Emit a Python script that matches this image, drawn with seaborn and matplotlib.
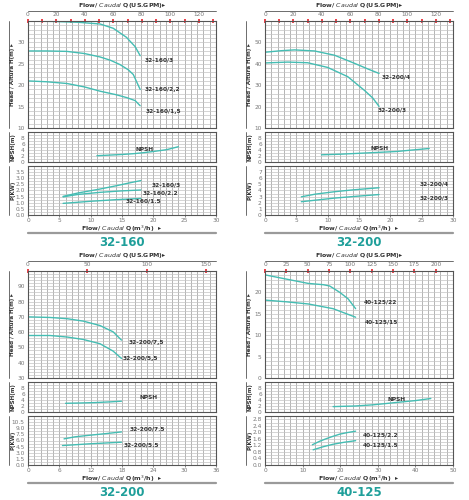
import matplotlib.pyplot as plt
from matplotlib.ticker import MultipleLocator, FixedLocator
from matplotlib.lines import Line2D
import numpy as np
import seaborn as sns

GPM = 4.40287  # US gallons per minute in one m3/h

# ---- 32-160 ----
q160_3 = [0, 4, 8, 11.5, 13.6, 15.7, 17.1, 17.9]
h160_3 = [35, 34.9, 34.7, 34.3, 33.3, 31.2, 29.0, 26.9]
q160_22 = [0, 3, 6.2, 9, 11.5, 13.2, 14.7, 16, 16.8, 17.9]
h160_22 = [28, 28, 27.9, 27.4, 26.6, 25.8, 24.8, 23.6, 22.5, 19.0]
q160_15 = [0, 3, 6.2, 9, 11.5, 14, 15.75, 17.1, 17.9]
h160_15 = [21, 20.8, 20.4, 19.6, 18.6, 17.8, 17.1, 16.4, 15.2]
q160_npsh = [11, 13, 15, 17, 18.4, 20, 22.1, 24]
n160 = [2.1, 2.3, 2.5, 2.8, 3.1, 3.5, 4.1, 5.1]
q160_p3 = [5.6, 8, 11.5, 14.2, 16, 18]
p160_3 = [1.52, 1.8, 2.12, 2.4, 2.6, 2.81]
q160_p22 = [5.6, 8, 11.5, 15, 18]
p160_22 = [1.48, 1.68, 1.85, 1.97, 2.04]
q160_p15 = [5.6, 10, 14, 18]
p160_15 = [0.95, 1.12, 1.25, 1.35]

# ---- 32-200 (4 / 3 kW) ----
q200_4 = [0, 2.5, 4.7, 7.9, 11.1, 14.3, 16.4, 18.2]
h200_4 = [45.4, 46.1, 46.5, 46.0, 44.0, 40.2, 37.6, 35.5]
q200_3 = [0, 3.6, 6.8, 10, 13.2, 15.9, 17.2, 18.2]
h200_3 = [40.4, 40.8, 40.5, 38.3, 34.0, 27.5, 24.0, 20.1]
q200_npsh = [9, 12, 15, 18, 21, 23, 26.2]
n200 = [2.4, 2.6, 2.9, 3.2, 3.5, 3.9, 4.5]
q200_p4 = [5.8, 8, 11.1, 14, 18.2]
p200_4 = [2.97, 3.4, 3.8, 4.1, 4.45]
q200_p3 = [5.8, 8.5, 11.1, 14.5, 18.2]
p200_3 = [2.17, 2.47, 2.76, 3.05, 3.34]

# ---- 32-200 (7,5 / 5,5 kW) ----
q200_75 = [0, 4.2, 7.5, 10.6, 13.8, 16.3, 17.9]
h200_75 = [70, 69.6, 68.8, 67.2, 64.3, 60.2, 54.8]
q200_55 = [0, 4.2, 7.5, 10.6, 13.8, 16.3, 17.9]
h200_55 = [57.8, 57.8, 56.8, 55.2, 52.4, 47.6, 42.8]
q200b_npsh = [7.2, 10, 13, 16, 17.9]
n200b = [2.9, 3.0, 3.15, 3.4, 3.6]
q200_p75 = [6.9, 9, 11.9, 15, 17.9]
p200_75 = [6.4, 6.9, 7.3, 7.7, 8.1]
q200_p55 = [6.6, 11.9, 17.9]
p200_55 = [4.76, 5.2, 5.58]

# ---- 40-125 ----
q125_22 = [0, 5.7, 11.5, 15.5, 17.2, 19.9, 22.1, 24.1]
h125_22 = [24.1, 23.1, 22.1, 21.8, 21.5, 20.0, 18.5, 16.2]
q125_15 = [0, 5.7, 11.5, 18.1, 24.1]
h125_15 = [18.2, 17.8, 17.3, 16.2, 14.2]
q125_npsh = [18.1, 24, 28.8, 32, 35.9, 40, 44.1]
n125 = [1.8, 2.0, 2.4, 2.8, 3.3, 3.8, 4.5]
q125_p22 = [12.6, 14.5, 16.4, 18, 19.9, 22, 24.1]
p125_22 = [1.24, 1.45, 1.62, 1.75, 1.89, 1.99, 2.07]
q125_p15 = [12.8, 15.5, 18.1, 21, 24.1]
p125_15 = [0.93, 1.12, 1.27, 1.39, 1.49]

W, H = 469, 500
CURVE = '#45bdb3'
TEAL = '#1f9f9a'
TXT = '#333333'
TICK = '#777777'

sns.set_theme(style='white')
plt.rcParams['font.family'] = ['DejaVu Sans']

fig = plt.figure(figsize=(W / 100, H / 100), dpi=100)


def add_ax(left, top, width, height):
    return fig.add_axes([left / W, 1 - (top + height) / H, width / W, height / H])


def fig_line(x1, y1, x2, y2, color, lw):
    fig.add_artist(Line2D([x1 / W, x2 / W], [1 - y1 / H, 1 - y2 / H],
                          transform=fig.transFigure, color=color, lw=lw))


def style(ax, xmax, xstep, ylim, ygrid, yticks, bottom_labels):
    ax.set_xlim(0, xmax)
    ax.set_ylim(*ylim)
    ax.set_xticks(np.arange(0, xmax + 0.01, xstep))
    ax.xaxis.set_minor_locator(MultipleLocator(xmax / 30))
    ax.set_yticks(yticks)
    ax.yaxis.set_minor_locator(MultipleLocator(ygrid))
    ax.grid(which='both', axis='x', color='#a0a0a0', lw=0.55)
    ax.grid(which='both', axis='y', color='#c4c4c4', lw=0.5)
    ax.tick_params(which='minor', length=0)
    ax.tick_params(which='major', labelsize=4.2, labelcolor=TICK, length=1.5,
                   width=0.5, color='#555555', pad=0.8,
                   bottom=bottom_labels, labelbottom=bottom_labels)
    for s in ax.spines.values():
        s.set_color('#555555')
        s.set_linewidth(0.8)
    ax.set_xlabel('')
    ax.set_ylabel('')


def bracket(x_left, top, height, text):
    fig_line(x_left - 19, top, x_left - 19, top + height, '#555555', 0.6)
    fig.text((x_left - 15.5) / W, 1 - (top + height / 2) / H, text, rotation=90,
             ha='center', va='center', fontsize=4.0, fontweight='bold', color=TXT)


def curve(ax, q, v, label=None, pos=None):
    sns.lineplot(x=q, y=v, ax=ax, color=CURVE, lw=1.0, sort=False)
    if label:
        ax.text(pos[0], pos[1], label, fontsize=4.2, fontweight='bold',
                color=TXT, ha='left', va='center')


def panel(x0, y0, cfg):
    xmax, xstep = cfg['xmax'], cfg['xstep']
    head = add_ax(x0, y0 + 21, 188, 107)
    npsh = add_ax(x0, y0 + 132, 188, 30)
    powr = add_ax(x0, y0 + 166, 188, 49)

    for q, h, lab, pos in cfg['heads']:
        curve(head, q, h, lab, pos)
    style(head, xmax, xstep, cfg['hlim'], cfg['hgrid'], cfg['hticks'], False)

    q, n, pos = cfg['npsh']
    curve(npsh, q, n, 'NPSH', pos)
    style(npsh, xmax, xstep, (0, 10), 1, [0, 2, 4, 6, 8], False)

    for q, p, lab, pos in cfg['powers']:
        curve(powr, q, p, lab, pos)
    style(powr, xmax, xstep, cfg['plim'], cfg['pgrid'], cfg['pticks'], True)

    sec = head.secondary_xaxis('top', functions=(lambda x: x * GPM, lambda g: g / GPM))
    sec.set_xticks(cfg['gpm'])
    sec.xaxis.set_minor_locator(FixedLocator(cfg['gpm_red']))
    sec.tick_params(which='both', color='#e8202a', direction='inout', length=3.5,
                    width=1.2)
    sec.tick_params(which='major', labelsize=4.2, labelcolor=TICK, pad=0.8)
    sec.spines['top'].set_visible(False)

    bracket(x0, y0 + 21, 107, 'Head / Altura H(m) \u25b8')
    bracket(x0, y0 + 132, 30, 'NPSH(m)')
    bracket(x0, y0 + 166, 49, 'P(KW)')

    cx = (x0 + 94) / W
    fig.text(cx, 1 - (y0 + 6) / H, r'Flow/ $\it{Caudal}$ Q(US.GPM)' + '\u25b8',
             ha='center', va='center', fontsize=4.5, fontweight='bold', color=TXT)
    fig_line(x0, y0 + 11, x0 + 188, y0 + 11, '#555555', 0.6)
    fig.text(cx, 1 - (y0 + 228.5) / H, r'Flow/ $\it{Caudal}$ Q(m$^3$/h)  ' + '\u25b8',
             ha='center', va='center', fontsize=4.5, fontweight='bold', color=TXT)
    fig_line(x0, y0 + 232.5, x0 + 188, y0 + 232.5, '#9a9a9a', 1.6)
    fig.text(cx, 1 - (y0 + 242.5) / H, cfg['title'], ha='center', va='center',
             fontsize=8.5, fontweight='bold', color=TEAL)


panel(28, 0, dict(
    title='32-160', xmax=30, xstep=5,
    gpm=list(range(0, 140, 20)), gpm_red=list(range(0, 140, 10)),
    hlim=(10, 35), hgrid=1, hticks=[10, 15, 20, 25, 30],
    plim=(0, 4), pgrid=0.25, pticks=[0, 0.5, 1, 1.5, 2, 2.5, 3, 3.5],
    heads=[(q160_3, h160_3, '32-160/3', (18.6, 25.8)),
           (q160_22, h160_22, '32-160/2,2', (18.6, 19.0)),
           (q160_15, h160_15, '32-160/1,5', (18.8, 13.9))],
    npsh=(q160_npsh, n160, (17.1, 4.3)),
    powers=[(q160_p3, p160_3, '32-160/3', (19.7, 2.48)),
            (q160_p22, p160_22, '32-160/2.2', (18.3, 1.79)),
            (q160_p15, p160_15, '32-160/1.5', (15.5, 1.16))],
))

panel(265, 0, dict(
    title='32-200', xmax=30, xstep=5,
    gpm=list(range(0, 140, 20)), gpm_red=list(range(0, 140, 10)),
    hlim=(10, 60), hgrid=2, hticks=[10, 20, 30, 40, 50],
    plim=(0, 8), pgrid=0.5, pticks=[0, 1, 2, 3, 4, 5, 6, 7],
    heads=[(q200_4, h200_4, '32-200/4', (18.6, 34.0)),
           (q200_3, h200_3, '32-200/3', (18.0, 18.5))],
    npsh=(q200_npsh, n200, (16.9, 4.6)),
    powers=[(q200_p4, p200_4, '32-200/4', (24.6, 5.1)),
            (q200_p3, p200_3, '32-200/3', (24.6, 2.8))],
))

panel(28, 250, dict(
    title='32-200', xmax=36, xstep=6,
    gpm=[0, 50, 100, 150], gpm_red=[50, 100, 150],
    hlim=(30, 100), hgrid=2, hticks=[30, 40, 50, 60, 70, 80, 90],
    plim=(0, 12), pgrid=0.75, pticks=[0, 1.5, 3, 4.5, 6, 7.5, 9, 10.5],
    heads=[(q200_75, h200_75, '32-200/7,5', (19.2, 53.0)),
           (q200_55, h200_55, '32-200/5,5', (18.1, 42.8))],
    npsh=(q200b_npsh, n200b, (21.4, 4.9)),
    powers=[(q200_p75, p200_75, '32-200/7.5', (19.5, 8.7)),
            (q200_p55, p200_55, '32-200/5.5', (18.4, 4.8))],
))

panel(265, 250, dict(
    title='40-125', xmax=50, xstep=10,
    gpm=list(range(0, 225, 25)), gpm_red=list(range(0, 225, 25)),
    hlim=(0, 25), hgrid=1, hticks=[0, 5, 10, 15, 20],
    plim=(0, 3.0), pgrid=0.2, pticks=[0, 0.4, 0.8, 1.2, 1.6, 2, 2.4, 2.8],
    heads=[(q125_22, h125_22, '40-125/22', (26.3, 17.7)),
           (q125_15, h125_15, '40-125/15', (26.5, 13.1))],
    npsh=(q125_npsh, n125, (32.5, 4.1)),
    powers=[(q125_p22, p125_22, '40-125/2.2', (25.9, 1.83)),
            (q125_p15, p125_15, '40-125/1.5', (25.9, 1.24))],
))

fig.savefig('out.png', dpi=100)
